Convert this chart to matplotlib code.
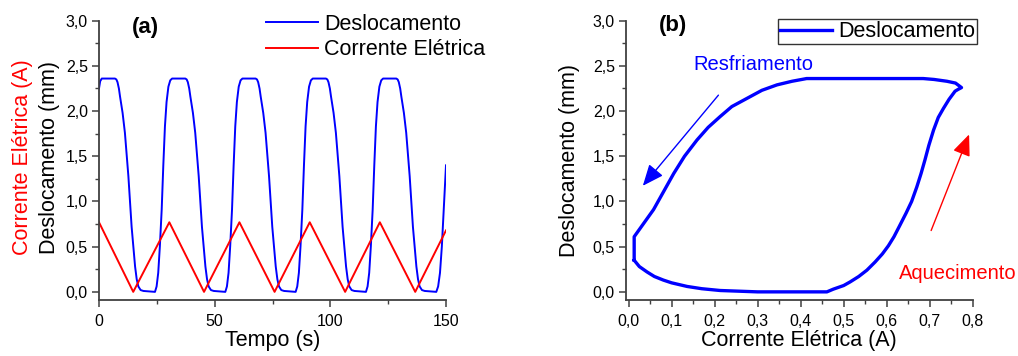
import matplotlib
matplotlib.use("Agg")
import matplotlib.pyplot as plt
from matplotlib.ticker import MultipleLocator, FixedLocator

plt.rcParams['font.family'] = ['Liberation Sans', 'DejaVu Sans']

# ---- Panel (a): time series ----
t_desl = [0, 0.5, 1.2,
          6.9, 7.5, 8.0, 8.6, 9.1, 10.2, 11.2, 12.0, 12.7, 14.1, 15.0, 15.6, 16.3, 17.0, 18.0, 19.2, 24.2, 24.9, 25.6, 26.3, 27.1, 27.8, 28.5, 29.2, 30.0, 30.8, 31.6,
          37.3, 37.9, 38.4, 39.0, 39.5, 40.6, 41.6, 42.4, 43.1, 44.5, 45.4, 46.0, 46.7, 47.4, 48.4, 49.6, 54.6, 55.3, 56.0, 56.7, 57.5, 58.2, 58.9, 59.6, 60.4, 61.2, 62.0,
          67.7, 68.3, 68.8, 69.4, 69.9, 71.0, 72.0, 72.8, 73.5, 74.9, 75.8, 76.4, 77.1, 77.8, 78.8, 80.0, 85.0, 85.7, 86.4, 87.1, 87.9, 88.6, 89.3, 90.0, 90.8, 91.6, 92.4,
          98.1, 98.7, 99.2, 99.8, 100.3, 101.4, 102.4, 103.2, 103.9, 105.3, 106.2, 106.8, 107.5, 108.2, 109.2, 110.4, 115.4, 116.1, 116.8, 117.5, 118.3, 119.0, 119.7, 120.4, 121.2, 122.0, 122.8,
          128.5, 129.1, 129.6, 130.2, 130.7, 131.8, 132.8, 133.6, 134.3, 135.7, 136.6, 137.2, 137.9, 138.6, 139.6, 140.8, 145.8, 146.6, 147.4, 148.2, 149.0, 150.0]
v_desl = [2.25, 2.33, 2.36,
          2.36, 2.35, 2.32, 2.25, 2.16, 1.98, 1.76, 1.50, 1.28, 0.72, 0.45, 0.28, 0.14, 0.06, 0.02, 0.01, 0.0, 0.06, 0.21, 0.50, 0.91, 1.40, 1.83, 2.10, 2.27, 2.34, 2.36,
          2.36, 2.35, 2.32, 2.25, 2.16, 1.98, 1.76, 1.50, 1.28, 0.72, 0.45, 0.28, 0.14, 0.06, 0.02, 0.01, 0.0, 0.06, 0.21, 0.50, 0.91, 1.40, 1.83, 2.10, 2.27, 2.34, 2.36,
          2.36, 2.35, 2.32, 2.25, 2.16, 1.98, 1.76, 1.50, 1.28, 0.72, 0.45, 0.28, 0.14, 0.06, 0.02, 0.01, 0.0, 0.06, 0.21, 0.50, 0.91, 1.40, 1.83, 2.10, 2.27, 2.34, 2.36,
          2.36, 2.35, 2.32, 2.25, 2.16, 1.98, 1.76, 1.50, 1.28, 0.72, 0.45, 0.28, 0.14, 0.06, 0.02, 0.01, 0.0, 0.06, 0.21, 0.50, 0.91, 1.40, 1.83, 2.10, 2.27, 2.34, 2.36,
          2.36, 2.35, 2.32, 2.25, 2.16, 1.98, 1.76, 1.50, 1.28, 0.72, 0.45, 0.28, 0.14, 0.06, 0.02, 0.01, 0.0, 0.06, 0.21, 0.50, 0.91, 1.40]

t_corr = [0, 14.8, 30.4, 45.4, 60.7, 75.9, 91.1, 106.4, 121.4, 136.7, 150]
i_corr = [0.77, 0.0, 0.77, 0.0, 0.77, 0.0, 0.77, 0.0, 0.77, 0.0, 0.68]

# ---- Panel (b): hysteresis loop ----
c_loop = [0.013, 0.025, 0.043, 0.06, 0.081, 0.10, 0.136, 0.17, 0.213, 0.30, 0.40, 0.461,
          0.476, 0.50, 0.515, 0.535, 0.554, 0.573, 0.590, 0.604, 0.617, 0.63, 0.645, 0.658,
          0.670, 0.680, 0.689, 0.698, 0.709, 0.720, 0.732, 0.745, 0.759, 0.766, 0.774,
          0.76, 0.74, 0.71, 0.685, 0.60, 0.50, 0.414,
          0.38, 0.345, 0.31, 0.275, 0.24, 0.213, 0.185, 0.159, 0.13, 0.105, 0.058, 0.013, 0.013]
v_loop = [0.35, 0.28, 0.22, 0.17, 0.13, 0.10, 0.06, 0.035, 0.015, 0.0, 0.0, 0.0,
          0.03, 0.07, 0.11, 0.17, 0.24, 0.33, 0.42, 0.51, 0.61, 0.73, 0.87, 1.00,
          1.16, 1.31, 1.46, 1.62, 1.79, 1.93, 2.03, 2.13, 2.22, 2.24, 2.26,
          2.31, 2.33, 2.35, 2.36, 2.36, 2.36, 2.36,
          2.33, 2.29, 2.23, 2.14, 2.05, 1.94, 1.82, 1.68, 1.50, 1.31, 0.91, 0.61, 0.35]

y_ticks = [0.0, 0.5, 1.0, 1.5, 2.0, 2.5, 3.0]
y_ticklabels = ['0,0', '0,5', '1,0', '1,5', '2,0', '2,5', '3,0']
xa_ticks = [0, 50, 100, 150]
xa_ticklabels = ['0', '50', '100', '150']
xb_ticks = [0.0, 0.1, 0.2, 0.3, 0.4, 0.5, 0.6, 0.7, 0.8]
xb_ticklabels = ['0,0', '0,1', '0,2', '0,3', '0,4', '0,5', '0,6', '0,7', '0,8']

BLUE = '#0000ff'
RED = '#ff0000'
SPINE = '#404040'
LABEL_FS = 15.5

fig = plt.figure(figsize=(10.18, 3.56), dpi=100)
W, H = 1018, 356
ax1 = fig.add_axes([99 / W, 1 - 300 / H, 347 / W, (300 - 20.7) / H])
ax2 = fig.add_axes([626 / W, 1 - 300 / H, 346.7 / W, (300 - 20.7) / H])


def style(ax):
    for s in ['top', 'right']:
        ax.spines[s].set_visible(False)
    for s in ['left', 'bottom']:
        ax.spines[s].set_color(SPINE)
        ax.spines[s].set_linewidth(1.3)
    ax.tick_params(which='major', direction='out', length=5, width=1.1, color=SPINE,
                   labelsize=11.5, pad=3)
    ax.tick_params(which='minor', direction='out', length=3, width=1.0, color=SPINE)
    ax.tick_params(axis='x', which='major', pad=5)
    ax.set_ylim(-0.09, 3.0)
    ax.yaxis.set_major_locator(FixedLocator(y_ticks))
    ax.set_yticklabels(y_ticklabels)
    ax.yaxis.set_minor_locator(MultipleLocator(0.25))


# Panel (a)
style(ax1)
ax1.plot(t_desl, v_desl, color=BLUE, lw=1.4, label='Deslocamento')
ax1.plot(t_corr, i_corr, color=RED, lw=1.4, label='Corrente Elétrica')
ax1.set_xlim(0, 150)
ax1.xaxis.set_major_locator(FixedLocator(xa_ticks))
ax1.set_xticklabels(xa_ticklabels)
ax1.xaxis.set_minor_locator(MultipleLocator(25))
ax1.set_xlabel('Tempo (s)', fontsize=LABEL_FS, labelpad=1)
ax1.text(19.9, 2.93, '(a)', fontsize=16, fontweight='bold', ha='center', va='center')
fig.text(50 / W, 1 - 157 / H, 'Deslocamento (mm)', rotation=90, fontsize=LABEL_FS,
         ha='center', va='center', color='black')
fig.text(23 / W, 1 - 157 / H, 'Corrente Elétrica (A)', rotation=90, fontsize=LABEL_FS,
         ha='center', va='center', color=RED)
leg1 = ax1.legend(loc='upper left', bbox_to_anchor=(266 / W, 1 - 14 / H),
                  bbox_transform=fig.transFigure, frameon=False, fontsize=LABEL_FS,
                  handlelength=2.4, handletextpad=0.3, labelspacing=0.2,
                  borderpad=0, borderaxespad=0)

# Panel (b)
style(ax2)
ax2.plot(c_loop, v_loop, color=BLUE, lw=2.4, label='Deslocamento', solid_joinstyle='round')
ax2.set_xlim(-0.006, 0.8)
ax2.xaxis.set_major_locator(FixedLocator(xb_ticks))
ax2.set_xticklabels(xb_ticklabels)
ax2.xaxis.set_minor_locator(MultipleLocator(0.05))
ax2.set_xlabel('Corrente Elétrica (A)', fontsize=LABEL_FS, labelpad=1)
ax2.set_ylabel('Deslocamento (mm)', fontsize=LABEL_FS, labelpad=9)
ax2.text(0.104, 2.95, '(b)', fontsize=16, fontweight='bold', ha='center', va='center')
leg2 = ax2.legend(loc='upper left', bbox_to_anchor=(778 / W, 1 - 19 / H),
                  bbox_transform=fig.transFigure, frameon=True, fontsize=LABEL_FS,
                  handlelength=2.4, handletextpad=0.3, borderpad=0.1,
                  borderaxespad=0, fancybox=False)
leg2.get_frame().set_edgecolor('black')
leg2.get_frame().set_linewidth(1.0)

ax2.annotate('', xy=(0.029, 1.15), xytext=(0.213, 2.20),
             arrowprops=dict(arrowstyle='-|>,head_length=1.3,head_width=0.55',
                             color=BLUE, lw=1.0))
ax2.annotate('', xy=(0.794, 1.77), xytext=(0.701, 0.65),
             arrowprops=dict(arrowstyle='-|>,head_length=1.3,head_width=0.55',
                             color=RED, lw=1.0))
ax2.text(0.289, 2.51, 'Resfriamento', color=BLUE, fontsize=14.5, ha='center', va='center')
ax2.text(0.766, 0.20, 'Aquecimento', color=RED, fontsize=14.5, ha='center', va='center',
         clip_on=False)

fig.savefig('out.png', dpi=100)
